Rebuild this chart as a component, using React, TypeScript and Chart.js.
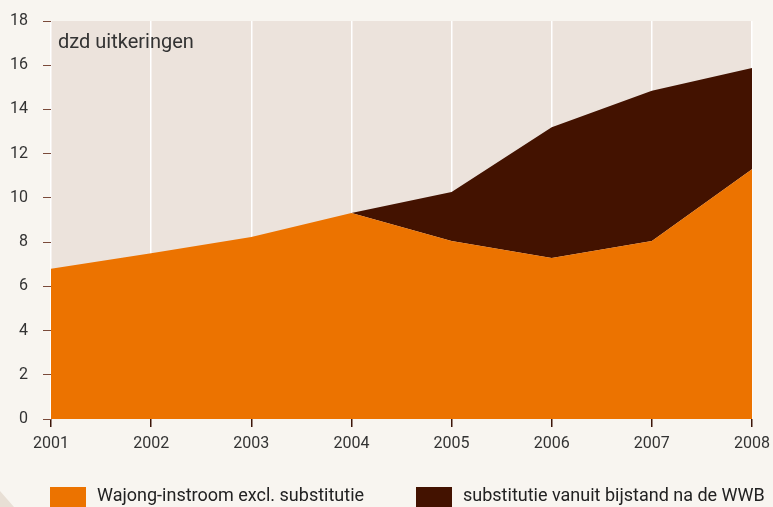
import React, { useEffect, useRef } from "react";
import { Chart, registerables } from "chart.js";

Chart.register(...registerables);

const years = ["2001", "2002", "2003", "2004", "2005", "2006", "2007", "2008"];
const wajong = [6.79, 7.5, 8.23, 9.32, 8.05, 7.28, 8.05, 11.3];
const substitutie = [0, 0, 0, 0, 2.22, 5.92, 6.79, 4.58];
const yTicks = [0, 2, 4, 6, 8, 10, 12, 14, 16, 18];
const seriesLabels = ["Wajong-instroom excl. substitutie", "substitutie vanuit bijstand na de WWB"];
const unitLabel = "dzd uitkeringen";

const ORANGE = "#EC7300";
const BROWN = "#431200";
const PAGE_BG = "#F8F5F0";
const PLOT_BG = "#ECE3DC";
const FONT = "Roboto";

const bgPlugin = {
  id: "plotBg",
  beforeDraw(chart: any) {
    const { ctx, chartArea } = chart;
    ctx.save();
    ctx.fillStyle = PLOT_BG;
    ctx.fillRect(chartArea.left, chartArea.top, chartArea.right - chartArea.left, chartArea.bottom - chartArea.top);
    ctx.restore();
  },
};

export default function App() {
  const ref = useRef<HTMLCanvasElement>(null);
  useEffect(() => {
    document.body.style.margin = "0";
    document.body.style.background = PAGE_BG;
    const chart = new Chart(ref.current!, {
      type: "line",
      data: {
        labels: years,
        datasets: [
          {
            label: seriesLabels[0],
            data: wajong,
            backgroundColor: ORANGE,
            borderWidth: 0,
            pointRadius: 0,
            fill: "origin",
            tension: 0,
          },
          {
            label: seriesLabels[1],
            data: substitutie,
            backgroundColor: BROWN,
            borderWidth: 0,
            pointRadius: 0,
            fill: "-1",
            tension: 0,
          },
        ],
      },
      options: {
        animation: false,
        responsive: false,
        layout: { padding: { left: 0, right: 21, top: 21, bottom: 0 } },
        plugins: { legend: { display: false }, tooltip: { enabled: false } },
        scales: {
          x: {
            offset: false,
            border: { display: false },
            grid: {
              color: "#FFFFFF",
              lineWidth: 1.5,
              tickColor: "#3d1508",
              tickLength: 8,
              drawOnChartArea: true,
            },
            ticks: {
              color: "#333333",
              font: { family: FONT, size: 16, weight: 400 },
              padding: 7,
              maxRotation: 0,
            },
            afterFit(scale: any) {
              scale.height = 88;
              scale.paddingLeft = 0;
              scale.paddingRight = 0;
            },
          },
          y: {
            stacked: true,
            min: 0,
            max: 18,
            border: { display: false },
            grid: {
              drawOnChartArea: false,
              tickColor: "#7a4a3a",
              tickLength: 8,
            },
            afterBuildTicks(scale: any) {
              scale.ticks = yTicks.map((v) => ({ value: v }));
            },
            ticks: {
              color: "#333333",
              font: { family: FONT, size: 16, weight: 400 },
              padding: 15,
            },
            afterFit(scale: any) {
              scale.width = 51;
              scale.paddingTop = 0;
              scale.paddingBottom = 0;
            },
          },
        },
      },
      plugins: [bgPlugin],
    });
    return () => chart.destroy();
  }, []);

  const legendText: React.CSSProperties = {
    position: "absolute",
    top: 484,
    fontFamily: FONT,
    fontWeight: 400,
    fontSize: 18,
    lineHeight: "22px",
    color: "#222222",
    whiteSpace: "nowrap",
  };

  return (
    <div style={{ position: "relative", width: 773, height: 507, overflow: "hidden", background: PAGE_BG }}>
      <canvas ref={ref} width={773} height={507} style={{ display: "block" }} />
      <div
        style={{
          position: "absolute",
          left: 0,
          top: 487,
          width: 14,
          height: 20,
          background: "#E8DFD5",
          clipPath: "polygon(0 20%, 100% 100%, 0 100%)",
        }}
      />
      <div
        style={{
          position: "absolute",
          left: 58,
          top: 29,
          fontFamily: FONT,
          fontWeight: 400,
          fontSize: 20,
          lineHeight: "24px",
          color: "#333333",
        }}
      >
        {unitLabel}
      </div>
      <div style={{ position: "absolute", left: 50, top: 487, width: 36, height: 24, background: ORANGE }} />
      <div style={{ ...legendText, left: 97 }}>{seriesLabels[0]}</div>
      <div style={{ position: "absolute", left: 416, top: 487, width: 36, height: 24, background: BROWN }} />
      <div style={{ ...legendText, left: 463 }}>{seriesLabels[1]}</div>
    </div>
  );
}
